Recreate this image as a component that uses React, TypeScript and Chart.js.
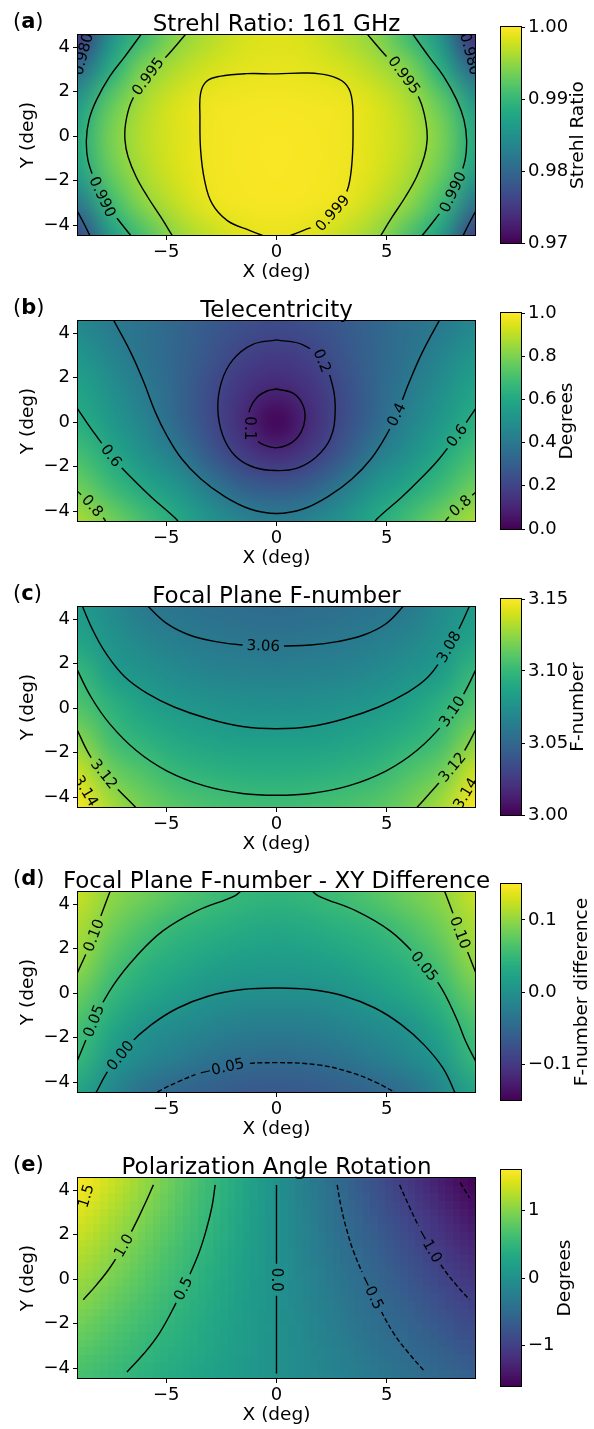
import React, { useEffect, useRef } from "react";
import { Chart, registerables } from "chart.js";

Chart.register(...registerables);

const FONT = '"DejaVu Sans", "Liberation Sans", sans-serif';
const TICK_SIZE = 18;
const LABEL_SIZE = 18.5;
const TITLE_SIZE = 23;
const LETTER_SIZE = 21;
const CLABEL_SIZE = 15;

// ---------- shared axes ----------
const X_NODES = [-9, -7.5, -6, -4.5, -3, -1.5, 0, 1.5, 3, 4.5, 6, 7.5, 9];
const Y_NODES = [4.5, 3, 1.5, 0, -1.5, -3, -4.5];
const X_TICKS = [-5, 0, 5];
const Y_TICKS = [-4, -2, 0, 2, 4];
const X_RANGE = [-9, 9];
const Y_RANGE = [-4.45, 4.55];

// ---------- (a) Strehl ratio ----------
const STREHL_GRID = [
  [0.9745, 0.985, 0.9903, 0.9945, 0.9965, 0.998, 0.9985, 0.998, 0.9965, 0.9945, 0.9903, 0.985, 0.9735],
  [0.98, 0.9885, 0.9942, 0.9965, 0.998, 0.9987, 0.9989, 0.9987, 0.998, 0.9965, 0.9942, 0.9885, 0.9795],
  [0.986, 0.9925, 0.9962, 0.9983, 0.9993, 0.9995, 0.9996, 0.9995, 0.9993, 0.9983, 0.9962, 0.9925, 0.9858],
  [0.988, 0.9938, 0.9968, 0.9984, 0.9994, 0.9997, 0.9998, 0.9997, 0.9994, 0.9984, 0.9968, 0.9938, 0.9878],
  [0.987, 0.993, 0.9963, 0.9983, 0.9994, 0.9997, 0.9998, 0.9997, 0.9994, 0.9983, 0.9963, 0.993, 0.9868],
  [0.982, 0.9903, 0.9948, 0.9973, 0.9991, 0.9996, 0.9997, 0.9996, 0.9991, 0.9973, 0.9948, 0.9903, 0.9815],
  [0.976, 0.9862, 0.9912, 0.9952, 0.9972, 0.9986, 0.999, 0.9986, 0.9972, 0.9952, 0.9912, 0.9862, 0.9752],
];
const STREHL_RANGE = [0.97, 1.0];
const STREHL_CB_TICKS = [0.97, 0.98, 0.99, 1.0];
const A_999 = [[-0.3, -4.6], [-1.2, -4.25], [-2.23, -3.8], [-2.92, -3.04], [-3.26, -1.99], [-3.44, -0.63], [-3.47, 0.88], [-3.44, 1.93], [-3.18, 2.46], [-2.58, 2.69], [-1.37, 2.81], [0, 2.8], [1.37, 2.84], [2.4, 2.72], [3.09, 2.39], [3.4, 1.78], [3.47, 0.43], [3.43, -1.08], [3.26, -2.28], [2.92, -3.04], [2.23, -3.8], [1.2, -4.25], [0.3, -4.6]];
const A_995L = [[-4.02, 4.7], [-4.98, 3.59], [-5.67, 2.91], [-6.18, 2.23], [-6.61, 1.48], [-6.84, 0.58], [-6.87, -0.18], [-6.73, -0.93], [-6.36, -1.84], [-5.84, -2.74], [-5.24, -3.65], [-4.65, -4.6]];
const A_995R = [[4.02, 4.7], [4.98, 3.59], [5.67, 2.91], [6.18, 2.23], [6.56, 1.48], [6.78, 0.58], [6.83, -0.18], [6.7, -0.93], [6.35, -1.84], [5.84, -2.74], [5.24, -3.65], [4.65, -4.6]];
const A_990L = [[-6.05, 4.7], [-6.87, 3.59], [-7.56, 2.69], [-8.16, 1.63], [-8.5, 0.73], [-8.62, -0.18], [-8.55, -1.08], [-8.24, -1.99], [-7.81, -2.89], [-7.21, -3.72], [-6.5, -4.6]];
const A_990R = [[6.1, 4.7], [6.9, 3.59], [7.58, 2.69], [8.17, 1.63], [8.5, 0.73], [8.62, -0.18], [8.55, -1.08], [8.24, -1.99], [7.81, -2.89], [7.21, -3.72], [6.5, -4.6]];
const A_980TL = [[-9.1, 2.5], [-8.92, 3.2], [-8.76, 3.8], [-8.58, 4.6]];
const A_980TR = [[9.1, 2.5], [8.92, 3.2], [8.76, 3.8], [8.58, 4.6]];
const A_980BL = [[-9.1, -3.25], [-8.75, -3.9], [-8.4, -4.6]];
const A_980BR = [[9.1, -3.25], [8.75, -3.9], [8.4, -4.6]];
const A_LABELS = [
  { text: "0.999", at: [2.57, -3.49], c: 0 },
  { text: "0.995", at: [-5.85, 2.7], c: 1 },
  { text: "0.995", at: [5.8, 2.75], c: 2 },
  { text: "0.990", at: [-7.9, -2.74], c: 3 },
  { text: "0.990", at: [7.99, -2.51], c: 4 },
  { text: "0.980", at: [-8.8, 3.7], c: 5 },
  { text: "0.980", at: [8.78, 3.7], c: 6 },
];

// ---------- (b) Telecentricity ----------
const TELE_GRID = [
  [0.46, 0.402, 0.37, 0.325, 0.28, 0.245, 0.23, 0.245, 0.28, 0.325, 0.37, 0.402, 0.46],
  [0.52, 0.445, 0.375, 0.32, 0.26, 0.195, 0.17, 0.195, 0.26, 0.32, 0.375, 0.445, 0.52],
  [0.575, 0.49, 0.405, 0.32, 0.23, 0.145, 0.1, 0.145, 0.23, 0.32, 0.405, 0.49, 0.575],
  [0.625, 0.53, 0.44, 0.33, 0.225, 0.115, 0.0, 0.115, 0.225, 0.33, 0.44, 0.53, 0.625],
  [0.7, 0.6, 0.5, 0.41, 0.275, 0.175, 0.125, 0.175, 0.275, 0.41, 0.5, 0.6, 0.7],
  [0.78, 0.685, 0.595, 0.52, 0.41, 0.31, 0.28, 0.31, 0.41, 0.52, 0.595, 0.685, 0.78],
  [0.875, 0.79, 0.7, 0.605, 0.515, 0.45, 0.425, 0.45, 0.515, 0.605, 0.7, 0.79, 0.875],
];
const TELE_RANGE = [0, 1];
const TELE_CB_TICKS = [0, 0.2, 0.4, 0.6, 0.8, 1.0];
const B_01 = [[0, 1.49], [0.77, 1.29], [1.2, 0.76], [1.29, 0.16], [1.12, -0.44], [0.69, -0.92], [0, -1.15], [-0.69, -0.97], [-1.12, -0.59], [-1.29, 0.01], [-1.2, 0.61], [-0.86, 1.14], [-0.43, 1.4], [0, 1.49]];
const B_02 = [[0, 3.7], [1.2, 3.48], [2.06, 2.8], [2.54, 1.65], [2.66, 0.46], [2.44, -0.74], [1.8, -1.57], [0.94, -2.07], [0, -2.18], [-1.03, -2.03], [-1.89, -1.5], [-2.44, -0.59], [-2.66, 0.61], [-2.49, 1.82], [-1.98, 2.8], [-1.12, 3.48], [0, 3.7]];
const B_04 = [[-7.45, 4.7], [-6.61, 3.14], [-6.01, 1.78], [-5.5, 0.46], [-4.98, -0.59], [-4.3, -1.65], [-3.44, -2.55], [-2.41, -3.31], [-1.2, -3.91], [0, -4.11], [1.2, -3.91], [2.4, -3.31], [3.43, -2.55], [4.29, -1.65], [4.98, -0.59], [5.49, 0.46], [6.01, 1.78], [6.61, 3.14], [7.45, 4.7]];
const B_06L = [[-9.1, 0.72], [-8.41, -0.29], [-7.38, -1.65], [-6.53, -2.55], [-5.67, -3.38], [-4.55, -4.36], [-4.4, -4.6]];
const B_06R = [[9.1, 0.72], [8.41, -0.29], [7.38, -1.65], [6.53, -2.55], [5.67, -3.38], [4.55, -4.36], [4.4, -4.6]];
const B_08L = [[-9.1, -3.05], [-8.41, -3.68], [-7.81, -4.36], [-7.7, -4.6]];
const B_08R = [[9.1, -3.1], [8.33, -3.76], [7.73, -4.36], [7.6, -4.6]];
const B_LABELS = [
  { text: "0.1", at: [-1.25, -0.29], c: 0, angle: 90 },
  { text: "0.2", at: [1.97, 2.72], c: 1 },
  { text: "0.4", at: [5.49, 0.31], c: 2 },
  { text: "0.6", at: [-7.47, -1.5], c: 3 },
  { text: "0.6", at: [8.16, -0.59], c: 4 },
  { text: "0.8", at: [-8.33, -3.76], c: 5 },
  { text: "0.8", at: [8.33, -3.76], c: 6 },
];

// ---------- (c) Focal plane F-number ----------
const FNUM_GRID = [
  [3.0815, 3.071, 3.0605, 3.0575, 3.0552, 3.053, 3.052, 3.053, 3.0552, 3.0575, 3.0605, 3.071, 3.0815],
  [3.087, 3.0765, 3.068, 3.0635, 3.0605, 3.0585, 3.0575, 3.0585, 3.0605, 3.0635, 3.068, 3.0765, 3.087],
  [3.1005, 3.0825, 3.0765, 3.0705, 3.067, 3.0655, 3.065, 3.0655, 3.067, 3.0705, 3.0765, 3.0825, 3.1005],
  [3.109, 3.0965, 3.0855, 3.0798, 3.0768, 3.075, 3.0745, 3.075, 3.0768, 3.0798, 3.0855, 3.0965, 3.109],
  [3.1235, 3.1042, 3.0962, 3.0895, 3.086, 3.084, 3.0835, 3.084, 3.086, 3.0895, 3.0962, 3.1042, 3.1235],
  [3.139, 3.1175, 3.108, 3.1, 3.0965, 3.0945, 3.094, 3.0945, 3.0965, 3.1, 3.108, 3.1175, 3.139],
  [3.149, 3.1305, 3.118, 3.1105, 3.1065, 3.1042, 3.1035, 3.1042, 3.1065, 3.1105, 3.118, 3.1305, 3.149],
];
const FNUM_RANGE = [3.0, 3.15];
const FNUM_CB_TICKS = [3.0, 3.05, 3.1, 3.15];
const C_306 = [[-5.95, 4.7], [-4.98, 3.81], [-3.95, 3.29], [-2.75, 2.99], [-1.55, 2.84], [0, 2.79], [1.54, 2.84], [2.75, 2.99], [3.95, 3.29], [4.98, 3.81], [5.86, 4.7]];
const C_308 = [[-8.85, 4.7], [-8.33, 3.51], [-7.73, 2.46], [-6.87, 1.4], [-5.84, 0.65], [-4.64, 0.05], [-3.09, -0.48], [-1.55, -0.83], [0, -0.93], [1.54, -0.83], [3.09, -0.48], [4.63, 0.05], [5.84, 0.65], [6.87, 1.4], [7.64, 2.46], [8.24, 3.51], [8.8, 4.7]];
const C_310 = [[-9.1, 1.85], [-8.41, 0.5], [-7.56, -0.71], [-6.36, -1.91], [-4.98, -2.82], [-3.26, -3.5], [-1.55, -3.84], [0, -3.92], [1.54, -3.84], [3.26, -3.5], [4.98, -2.82], [6.36, -1.91], [7.56, -0.71], [8.41, 0.5], [9.1, 1.85]];
const C_312L = [[-9.1, -0.85], [-8.41, -2.22], [-7.56, -3.27], [-6.25, -4.6]];
const C_312R = [[9.1, -0.85], [8.33, -2.22], [7.38, -3.35], [6.25, -4.6]];
const C_314L = [[-9.1, -2.95], [-8.65, -3.7], [-8.1, -4.6]];
const C_314R = [[9.1, -2.95], [8.65, -3.7], [8.1, -4.6]];
const C_LABELS = [
  { text: "3.06", at: [-0.6, 2.84], c: 0 },
  { text: "3.08", at: [7.82, 2.75], c: 1 },
  { text: "3.10", at: [7.91, -0.11], c: 2 },
  { text: "3.12", at: [-7.64, -2.82], c: 3 },
  { text: "3.12", at: [7.99, -2.67], c: 4 },
  { text: "3.14", at: [-8.62, -3.72], c: 5 },
  { text: "3.14", at: [8.62, -3.87], c: 6 },
];

// ---------- (d) F-number XY difference ----------
const DIFF_GRID = [
  [0.125, 0.099, 0.085, 0.07, 0.058, 0.049, 0.046, 0.049, 0.058, 0.07, 0.085, 0.099, 0.125],
  [0.112, 0.085, 0.064, 0.048, 0.041, 0.033, 0.03, 0.033, 0.041, 0.048, 0.064, 0.085, 0.112],
  [0.103, 0.067, 0.045, 0.033, 0.023, 0.016, 0.014, 0.016, 0.023, 0.033, 0.045, 0.067, 0.103],
  [0.082, 0.049, 0.03, 0.015, 0.003, -0.002, -0.0025, -0.002, 0.003, 0.015, 0.03, 0.049, 0.082],
  [0.06, 0.03, 0.002, -0.008, -0.016, -0.023, -0.026, -0.023, -0.016, -0.008, 0.002, 0.03, 0.06],
  [0.049, 0.007, -0.012, -0.026, -0.037, -0.045, -0.048, -0.045, -0.037, -0.026, -0.012, 0.007, 0.049],
  [0.022, -0.012, -0.043, -0.055, -0.062, -0.067, -0.07, -0.067, -0.062, -0.055, -0.043, -0.012, 0.022],
];
const DIFF_RANGE = [-0.15, 0.15];
const DIFF_CB_TICKS = [-0.1, 0.0, 0.1];
const D_010L = [[-7.5, 4.7], [-7.99, 3.4], [-8.42, 2.27], [-9.1, 0.75]];
const D_010R = [[7.58, 4.7], [8.07, 3.4], [8.5, 2.27], [9.1, 0.75]];
const D_005L = [[-9.1, -3.2], [-8.67, -2.18], [-8.24, -1.12], [-7.38, 0.38], [-6.35, 1.66], [-5.15, 2.8], [-3.61, 3.7], [-1.89, 4.38], [-1.5, 4.7]];
const D_005R = [[1.5, 4.7], [1.89, 4.38], [3.61, 3.7], [5.15, 2.8], [6.35, 1.66], [7.38, 0.38], [8.15, -1.12], [8.58, -2.18], [9.1, -3.2]];
const D_000 = [[-8.25, -4.6], [-7.56, -3.38], [-6.7, -2.33], [-5.67, -1.42], [-4.47, -0.67], [-3.1, -0.14], [-1.55, 0.16], [0, 0.23], [1.54, 0.16], [3.09, -0.14], [4.46, -0.67], [5.66, -1.42], [6.69, -2.33], [7.55, -3.38], [8.15, -4.6]];
const D_M005 = [[-5.7, -4.6], [-4.47, -3.99], [-3.27, -3.54], [-1.89, -3.23], [0, -3.13], [1.89, -3.23], [3.26, -3.54], [4.46, -3.99], [5.6, -4.6]];
const D_LABELS = [
  { text: "0.10", at: [-8.42, 2.65], c: 0 },
  { text: "0.10", at: [8.33, 2.72], c: 1 },
  { text: "0.05", at: [-8.24, -1.27], c: 2 },
  { text: "0.05", at: [6.81, 1.29], c: 3 },
  { text: "0.00", at: [-7.12, -2.78], c: 4 },
  { text: "\u22120.05", at: [-2.49, -3.37], c: 5 },
];

// ---------- (e) Polarization angle rotation ----------
const POL_GRID = [
  [1.6, 1.36, 1.09, 0.82, 0.55, 0.28, 0, -0.28, -0.55, -0.82, -1.09, -1.36, -1.6],
  [1.45, 1.22, 0.98, 0.74, 0.5, 0.25, 0, -0.25, -0.5, -0.74, -0.98, -1.22, -1.45],
  [1.28, 1.08, 0.86, 0.65, 0.44, 0.22, 0, -0.22, -0.44, -0.65, -0.86, -1.08, -1.28],
  [1.12, 0.94, 0.75, 0.56, 0.37, 0.185, 0, -0.185, -0.37, -0.56, -0.75, -0.94, -1.12],
  [0.97, 0.8, 0.635, 0.475, 0.32, 0.16, 0, -0.16, -0.32, -0.475, -0.635, -0.8, -0.97],
  [0.8, 0.66, 0.525, 0.395, 0.265, 0.13, 0, -0.13, -0.265, -0.395, -0.525, -0.66, -0.8],
  [0.64, 0.535, 0.43, 0.32, 0.21, 0.105, 0, -0.105, -0.21, -0.32, -0.43, -0.535, -0.64],
];
const POL_RANGE = [-1.6, 1.6];
const POL_CB_TICKS = [-1, 0, 1];
const POL_CELLS = [53, 26];
const E_15 = [[-8.85, 3.1], [-8.65, 3.75], [-8.45, 4.3]];
const E_10 = [[-5.58, 4.24], [-6.01, 3.29], [-6.53, 2.23], [-7.04, 1.33], [-7.56, 0.5], [-8.16, -0.26], [-8.76, -0.93]];
const E_05 = [[-2.78, 4.24], [-2.92, 3.29], [-3.18, 2.23], [-3.52, 1.17], [-4.04, -0.03], [-4.64, -1.24], [-5.32, -2.45], [-6.01, -3.35], [-6.78, -4.18]];
const E_00 = [[0, 4.24], [0, -4.25]];
const E_M05 = [[2.75, 4.24], [2.92, 3.29], [3.18, 2.23], [3.52, 1.17], [4.04, -0.03], [4.64, -1.24], [5.32, -2.45], [6.01, -3.35], [6.74, -4.18]];
const E_M10 = [[5.58, 4.24], [6.01, 3.29], [6.52, 2.23], [7.04, 1.33], [7.55, 0.5], [8.15, -0.26], [8.75, -0.93]];
const E_M15 = [[8.33, 4.34], [8.75, 3.66]];
const E_LABELS = [
  { text: "1.5", at: [-8.67, 3.75], c: 0 },
  { text: "1.0", at: [-6.87, 1.48], c: 1 },
  { text: "0.5", at: [-4.12, -0.48], c: 2 },
  { text: "0.0", at: [0, -0.03], c: 3 },
  { text: "\u22120.5", at: [4.21, -0.63], c: 4 },
  { text: "\u22121.0", at: [6.87, 1.48], c: 5 },
];

// ---------- colormap ----------
const VIRIDIS = ["#440154", "#48186a", "#472d7b", "#424086", "#3b528b", "#33638d", "#2c728e", "#26828e", "#21918c", "#1fa088", "#28ae80", "#3fbc73", "#5ec962", "#84d44b", "#addc30", "#d8e219", "#fde725"];
const VIR_RGB = VIRIDIS.map((h) => [parseInt(h.slice(1, 3), 16), parseInt(h.slice(3, 5), 16), parseInt(h.slice(5, 7), 16)]);
function viridis(t: number): number[] {
  const tt = Math.max(0, Math.min(1, t)) * (VIR_RGB.length - 1);
  const i = Math.min(Math.floor(tt), VIR_RGB.length - 2);
  const f = tt - i;
  const a = VIR_RGB[i], b = VIR_RGB[i + 1];
  return [0, 1, 2].map((k) => Math.round(a[k] + (b[k] - a[k]) * f));
}

function fmt(v: number, dec: number): string {
  const s = Math.abs(v).toFixed(dec);
  return (v < -1e-9 ? "\u2212" : "") + s;
}

type Contour = { pts: number[][]; dashed?: boolean };
type CLabel = { text: string; at: number[]; c: number; angle?: number };
type PanelCfg = {
  letter: string;
  title: string;
  cbLabel: string;
  grid: number[][];
  range: number[];
  cbTicks: number[];
  cbDec: number;
  contours: Contour[];
  labels: CLabel[];
  cells?: number[];
};

const PANELS: PanelCfg[] = [
  {
    letter: "a", title: "Strehl Ratio: 161 GHz", cbLabel: "Strehl Ratio",
    grid: STREHL_GRID, range: STREHL_RANGE, cbTicks: STREHL_CB_TICKS, cbDec: 2,
    contours: [{ pts: A_999 }, { pts: A_995L }, { pts: A_995R }, { pts: A_990L }, { pts: A_990R }, { pts: A_980TL }, { pts: A_980TR }, { pts: A_980BL }, { pts: A_980BR }],
    labels: A_LABELS,
  },
  {
    letter: "b", title: "Telecentricity", cbLabel: "Degrees",
    grid: TELE_GRID, range: TELE_RANGE, cbTicks: TELE_CB_TICKS, cbDec: 1,
    contours: [{ pts: B_01 }, { pts: B_02 }, { pts: B_04 }, { pts: B_06L }, { pts: B_06R }, { pts: B_08L }, { pts: B_08R }],
    labels: B_LABELS,
  },
  {
    letter: "c", title: "Focal Plane F-number", cbLabel: "F-number",
    grid: FNUM_GRID, range: FNUM_RANGE, cbTicks: FNUM_CB_TICKS, cbDec: 2,
    contours: [{ pts: C_306 }, { pts: C_308 }, { pts: C_310 }, { pts: C_312L }, { pts: C_312R }, { pts: C_314L }, { pts: C_314R }],
    labels: C_LABELS,
  },
  {
    letter: "d", title: "Focal Plane F-number - XY Difference", cbLabel: "F-number difference",
    grid: DIFF_GRID, range: DIFF_RANGE, cbTicks: DIFF_CB_TICKS, cbDec: 1,
    contours: [{ pts: D_010L }, { pts: D_010R }, { pts: D_005L }, { pts: D_005R }, { pts: D_000 }, { pts: D_M005, dashed: true }],
    labels: D_LABELS,
  },
  {
    letter: "e", title: "Polarization Angle Rotation", cbLabel: "Degrees",
    grid: POL_GRID, range: POL_RANGE, cbTicks: POL_CB_TICKS, cbDec: 0,
    contours: [{ pts: E_15 }, { pts: E_10 }, { pts: E_05 }, { pts: E_00 }, { pts: E_M05, dashed: true }, { pts: E_M10, dashed: true }, { pts: E_M15, dashed: true }],
    labels: E_LABELS,
    cells: POL_CELLS,
  },
];

// ---------- drawing helpers ----------
function drawField(ctx: CanvasRenderingContext2D, a: any, xs: any, ys: any, cfg: PanelCfg) {
  const g = cfg.grid;
  const R = g.length, C = g[0].length;
  const off = document.createElement("canvas");
  off.width = C + 2;
  off.height = R + 2;
  const octx = off.getContext("2d")!;
  const img = octx.createImageData(C + 2, R + 2);
  const [vmin, vmax] = cfg.range;
  for (let r = 0; r < R + 2; r++) {
    for (let c = 0; c < C + 2; c++) {
      const v = g[Math.min(Math.max(r - 1, 0), R - 1)][Math.min(Math.max(c - 1, 0), C - 1)];
      const col = viridis((v - vmin) / (vmax - vmin));
      const i = (r * (C + 2) + c) * 4;
      img.data[i] = col[0];
      img.data[i + 1] = col[1];
      img.data[i + 2] = col[2];
      img.data[i + 3] = 255;
    }
  }
  octx.putImageData(img, 0, 0);
  const x0 = xs.getPixelForValue(X_NODES[0]), x1 = xs.getPixelForValue(X_NODES[C - 1]);
  const y0 = ys.getPixelForValue(Y_NODES[0]), y1 = ys.getPixelForValue(Y_NODES[R - 1]);
  const dx = (x1 - x0) / (C - 1), dy = (y1 - y0) / (R - 1);
  const L = x0 - 1.5 * dx, T = y0 - 1.5 * dy, W = dx * (C + 2), H = dy * (R + 2);
  const aw = a.right - a.left, ah = a.bottom - a.top;
  ctx.save();
  ctx.beginPath();
  ctx.rect(a.left, a.top, aw, ah);
  ctx.clip();
  if (cfg.cells) {
    const [nx, ny] = cfg.cells;
    const s = document.createElement("canvas");
    s.width = nx;
    s.height = ny;
    const sctx = s.getContext("2d")!;
    sctx.imageSmoothingEnabled = true;
    sctx.imageSmoothingQuality = "high";
    const kx = nx / aw, ky = ny / ah;
    sctx.drawImage(off, (L - a.left) * kx, (T - a.top) * ky, W * kx, H * ky);
    ctx.imageSmoothingEnabled = false;
    ctx.drawImage(s, a.left, a.top, aw, ah);
  } else {
    ctx.imageSmoothingEnabled = true;
    ctx.imageSmoothingQuality = "high";
    ctx.drawImage(off, L, T, W, H);
  }
  ctx.restore();
}

function labelGeom(ctx: CanvasRenderingContext2D, xs: any, ys: any, cfg: PanelCfg, lb: CLabel) {
  const pts = cfg.contours[lb.c].pts.map(([u, v]) => [xs.getPixelForValue(u), ys.getPixelForValue(v)]);
  const px = xs.getPixelForValue(lb.at[0]), py = ys.getPixelForValue(lb.at[1]);
  let best = { d: Infinity, x: px, y: py, ang: 0 };
  for (let i = 0; i < pts.length - 1; i++) {
    const [ax, ay] = pts[i], [bx, by] = pts[i + 1];
    const vx = bx - ax, vy = by - ay;
    const L2 = vx * vx + vy * vy || 1;
    let t = ((px - ax) * vx + (py - ay) * vy) / L2;
    t = Math.max(0, Math.min(1, t));
    const qx = ax + t * vx, qy = ay + t * vy;
    const d = (qx - px) ** 2 + (qy - py) ** 2;
    if (d < best.d) best = { d, x: qx, y: qy, ang: Math.atan2(vy, vx) };
  }
  let ang = best.ang;
  if (lb.angle !== undefined) ang = (lb.angle * Math.PI) / 180;
  else {
    if (ang > Math.PI / 2) ang -= Math.PI;
    if (ang <= -Math.PI / 2) ang += Math.PI;
  }
  return { text: lb.text, x: best.x, y: best.y, ang, w: ctx.measureText(lb.text).width };
}

function makeFieldPlugin(cfg: PanelCfg) {
  let geoms: any[] = [];
  return {
    id: "field",
    beforeDatasetsDraw(chart: any) {
      const { ctx, chartArea: a } = chart;
      const xs = chart.scales.x, ys = chart.scales.y;
      drawField(ctx, a, xs, ys, cfg);
      ctx.font = `${CLABEL_SIZE}px ${FONT}`;
      geoms = cfg.labels.map((lb) => labelGeom(ctx, xs, ys, cfg, lb));
      ctx.save();
      ctx.beginPath();
      ctx.rect(a.left, a.top, a.right - a.left, a.bottom - a.top);
      for (const gm of geoms) {
        const hw = gm.w / 2 + 4, hh = CLABEL_SIZE * 0.55;
        const c = Math.cos(gm.ang), s = Math.sin(gm.ang);
        const corners = [[-hw, -hh], [hw, -hh], [hw, hh], [-hw, hh]].map(([u, v]) => [gm.x + u * c - v * s, gm.y + u * s + v * c]);
        ctx.moveTo(corners[0][0], corners[0][1]);
        for (let i = 1; i < 4; i++) ctx.lineTo(corners[i][0], corners[i][1]);
        ctx.closePath();
      }
      ctx.clip("evenodd");
    },
    afterDatasetsDraw(chart: any) {
      const { ctx, chartArea: a } = chart;
      ctx.restore();
      ctx.save();
      ctx.beginPath();
      ctx.rect(a.left, a.top, a.right - a.left, a.bottom - a.top);
      ctx.clip();
      ctx.fillStyle = "#000";
      ctx.font = `${CLABEL_SIZE}px ${FONT}`;
      ctx.textAlign = "center";
      ctx.textBaseline = "middle";
      for (const gm of geoms) {
        ctx.save();
        ctx.translate(gm.x, gm.y);
        ctx.rotate(gm.ang);
        ctx.fillText(gm.text, 0, 1);
        ctx.restore();
      }
      ctx.restore();
      ctx.save();
      ctx.fillStyle = "#000";
      ctx.strokeStyle = "#000";
      ctx.lineWidth = 1;
      ctx.strokeRect(Math.round(a.left) - 0.5, Math.round(a.top) - 0.5, Math.round(a.right - a.left) + 1, Math.round(a.bottom - a.top) + 1);
      // title
      ctx.textAlign = "center";
      ctx.textBaseline = "alphabetic";
      ctx.font = `${TITLE_SIZE}px ${FONT}`;
      ctx.fillText(cfg.title, (a.left + a.right) / 2, 30.5);
      // panel letter
      ctx.textAlign = "left";
      let x = 13;
      const by = 27.5;
      ctx.font = `${LETTER_SIZE}px ${FONT}`;
      ctx.fillText("(", x, by);
      x += ctx.measureText("(").width;
      ctx.font = `bold ${LETTER_SIZE}px ${FONT}`;
      ctx.fillText(cfg.letter, x, by);
      x += ctx.measureText(cfg.letter).width;
      ctx.font = `${LETTER_SIZE}px ${FONT}`;
      ctx.fillText(")", x, by);
      ctx.restore();
    },
  };
}

function makeBarPlugin(cfg: PanelCfg) {
  return {
    id: "cbar",
    beforeDatasetsDraw(chart: any) {
      const { ctx, chartArea: a } = chart;
      const ys = chart.scales.y;
      const [vmin, vmax] = cfg.range;
      for (let py = Math.floor(a.top); py < Math.ceil(a.bottom); py++) {
        const v = ys.getValueForPixel(py + 0.5);
        const col = viridis((v - vmin) / (vmax - vmin));
        ctx.fillStyle = `rgb(${col[0]},${col[1]},${col[2]})`;
        ctx.fillRect(a.left, py, a.right - a.left, 1);
      }
    },
    afterDraw(chart: any) {
      const { ctx, chartArea: a } = chart;
      ctx.save();
      ctx.strokeStyle = "#000";
      ctx.lineWidth = 1;
      ctx.strokeRect(Math.round(a.left) - 0.5, Math.round(a.top) - 0.5, Math.round(a.right - a.left) + 1, Math.round(a.bottom - a.top) + 1);
      // place label just right of the widest tick label
      ctx.font = `${TICK_SIZE}px ${FONT}`;
      const maxW = Math.max(...cfg.cbTicks.map((v) => ctx.measureText(fmt(v, cfg.cbDec)).width));
      const lx = a.right + 4 + 3 + maxW + 1;
      ctx.fillStyle = "#000";
      ctx.font = `${LABEL_SIZE}px ${FONT}`;
      ctx.textAlign = "center";
      ctx.textBaseline = "top";
      ctx.translate(lx, (a.top + a.bottom) / 2);
      ctx.rotate(-Math.PI / 2);
      ctx.fillText(cfg.cbLabel, 0, 0);
      ctx.restore();
    },
  };
}

const MAIN_W = 490, CB_W = 104, PANEL_H = 286;

function buildMain(cfg: PanelCfg): any {
  const datasets = cfg.contours.map((c) => ({
    data: c.pts.map(([x, y]) => ({ x, y })),
    showLine: true,
    borderColor: "#000",
    borderWidth: 1.4,
    borderDash: c.dashed ? [5, 2.5] : [],
    pointRadius: 0,
    pointHoverRadius: 0,
    tension: 0.4,
    fill: false,
  }));
  const tickFont = { family: FONT, size: TICK_SIZE };
  const grid = { display: true, drawOnChartArea: false, drawTicks: true, tickLength: 5, tickWidth: 1, tickColor: "#000" };
  return {
    type: "scatter",
    data: { datasets },
    options: {
      animation: false,
      responsive: false,
      devicePixelRatio: 1,
      events: [],
      layout: { padding: { top: 35, right: 15, bottom: 0, left: 0 } },
      plugins: { legend: { display: false }, tooltip: { enabled: false }, title: { display: false } },
      scales: {
        x: {
          type: "linear",
          position: "bottom",
          min: X_RANGE[0],
          max: X_RANGE[1],
          afterBuildTicks: (s: any) => { s.ticks = X_TICKS.map((v) => ({ value: v })); },
          afterFit: (s: any) => { s.height = 51; },
          ticks: { font: tickFont, color: "#000", padding: 2, maxRotation: 0, autoSkip: false, callback: (v: any) => fmt(Number(v), 0) },
          grid,
          border: { display: false },
          title: { display: true, text: "X (deg)", color: "#000", font: { family: FONT, size: LABEL_SIZE }, padding: { top: 0, bottom: 3 } },
        },
        y: {
          type: "linear",
          position: "left",
          min: Y_RANGE[0],
          max: Y_RANGE[1],
          afterBuildTicks: (s: any) => { s.ticks = Y_TICKS.map((v) => ({ value: v })); },
          afterFit: (s: any) => { s.width = 78; },
          ticks: { font: tickFont, color: "#000", padding: 3, autoSkip: false, callback: (v: any) => fmt(Number(v), 0) },
          grid,
          border: { display: false },
          title: { display: true, text: "Y (deg)", color: "#000", font: { family: FONT, size: LABEL_SIZE }, padding: { top: 17, bottom: 0 } },
        },
      },
    },
    plugins: [makeFieldPlugin(cfg)],
  };
}

function buildBar(cfg: PanelCfg): any {
  return {
    type: "scatter",
    data: { datasets: [] },
    options: {
      animation: false,
      responsive: false,
      devicePixelRatio: 1,
      events: [],
      layout: { padding: { top: 27, right: 0, bottom: 43, left: 11 } },
      plugins: { legend: { display: false }, tooltip: { enabled: false } },
      scales: {
        x: { type: "linear", display: false, min: 0, max: 1 },
        y: {
          type: "linear",
          position: "right",
          min: cfg.range[0],
          max: cfg.range[1],
          afterBuildTicks: (s: any) => { s.ticks = cfg.cbTicks.map((v) => ({ value: v })); },
          afterFit: (s: any) => { s.width = CB_W - 31; },
          ticks: { font: { family: FONT, size: TICK_SIZE }, color: "#000", padding: 3, autoSkip: false, callback: (v: any) => fmt(Number(v), cfg.cbDec) },
          grid: { display: true, drawOnChartArea: false, drawTicks: true, tickLength: 4, tickWidth: 1, tickColor: "#000" },
          border: { display: false },
        },
      },
    },
    plugins: [makeBarPlugin(cfg)],
  };
}

function Panel({ cfg, top }: { cfg: PanelCfg; top: number }) {
  const mainRef = useRef<HTMLCanvasElement>(null);
  const cbRef = useRef<HTMLCanvasElement>(null);
  useEffect(() => {
    const main = new Chart(mainRef.current as HTMLCanvasElement, buildMain(cfg));
    const cb = new Chart(cbRef.current as HTMLCanvasElement, buildBar(cfg));
    return () => {
      main.destroy();
      cb.destroy();
    };
  }, [cfg]);
  return (
    <div style={{ position: "absolute", left: 0, top, width: 594, height: PANEL_H }}>
      <canvas ref={mainRef} width={MAIN_W} height={PANEL_H} style={{ position: "absolute", left: 0, top: 0, width: MAIN_W, height: PANEL_H }} />
      <canvas ref={cbRef} width={CB_W} height={PANEL_H} style={{ position: "absolute", left: MAIN_W, top: 0, width: CB_W, height: PANEL_H }} />
    </div>
  );
}

export default function App() {
  return (
    <div style={{ position: "absolute", left: 0, top: 0, width: 594, height: 1429, background: "#fff", overflow: "hidden" }}>
      {PANELS.map((cfg, k) => (
        <Panel key={cfg.letter} cfg={cfg} top={Math.round(k * 285.8)} />
      ))}
    </div>
  );
}
